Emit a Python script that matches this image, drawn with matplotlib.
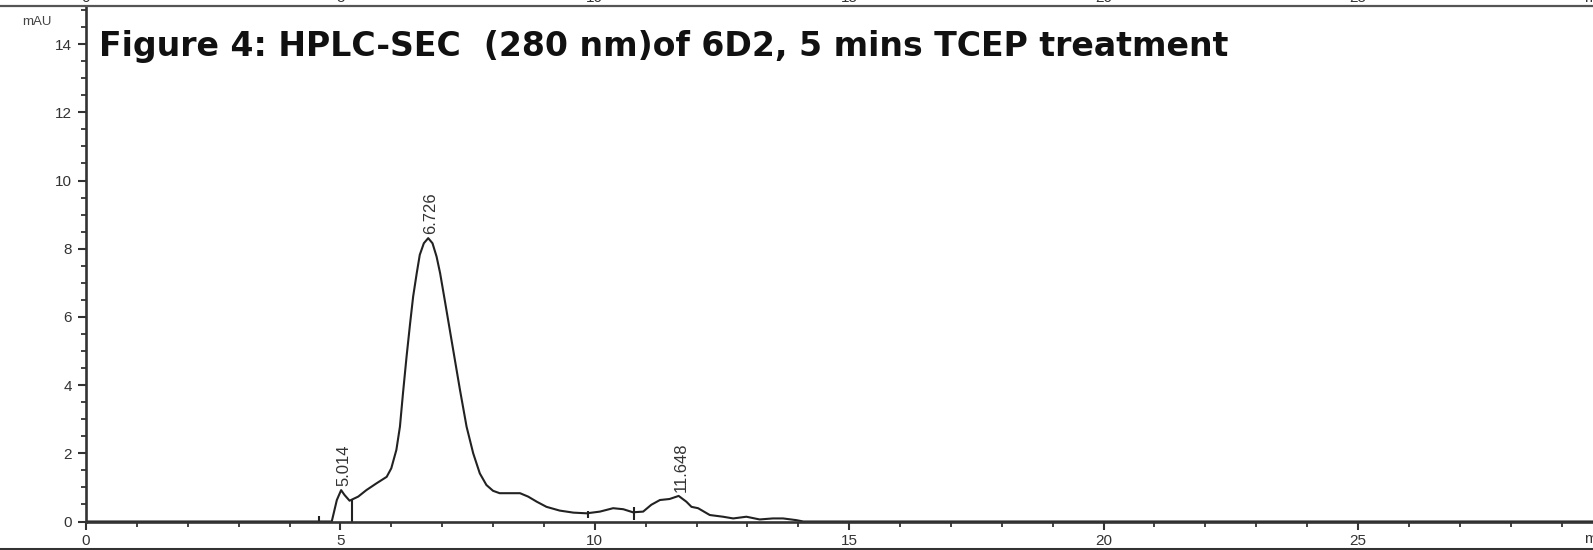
import matplotlib
matplotlib.use("Agg")
import matplotlib.pyplot as plt
from matplotlib.lines import Line2D
from matplotlib.transforms import blended_transform_factory
import numpy as np

# Chromatogram trace: retention time (min) vs absorbance (mAU)
time_min = [0.0, 4.50, 4.83, 4.93, 5.014, 5.08, 5.18, 5.35, 5.51, 5.71, 5.91, 6.00,
            6.10, 6.17, 6.23, 6.30, 6.37, 6.43, 6.50, 6.56, 6.64, 6.726, 6.81, 6.89,
            6.96, 7.05, 7.15, 7.25, 7.35, 7.48, 7.61, 7.74, 7.87, 8.00, 8.13, 8.33,
            8.53, 8.69, 8.86, 9.05, 9.31, 9.58, 9.84, 10.10, 10.36, 10.56, 10.75,
            10.95, 11.11, 11.28, 11.47, 11.648, 11.80, 11.90, 12.03, 12.26, 12.52,
            12.72, 12.98, 13.24, 13.50, 13.70, 13.96, 14.10, 29.6]
absorbance = [0.0, 0.0, 0.0, 0.63, 0.92, 0.78, 0.61, 0.73, 0.92, 1.12, 1.31, 1.56,
              2.10, 2.78, 3.76, 4.83, 5.81, 6.60, 7.28, 7.82, 8.16, 8.31, 8.16, 7.77,
              7.28, 6.50, 5.62, 4.74, 3.86, 2.78, 2.00, 1.41, 1.07, 0.90, 0.83, 0.83,
              0.83, 0.73, 0.58, 0.43, 0.32, 0.26, 0.24, 0.29, 0.39, 0.36, 0.27,
              0.29, 0.49, 0.63, 0.66, 0.75, 0.58, 0.43, 0.39, 0.19, 0.14,
              0.09, 0.14, 0.06, 0.09, 0.09, 0.04, 0.0, 0.0]

# Labelled peaks (retention time, apex height)
peak_times = [5.014, 6.726, 11.648]
peak_heights = [0.92, 8.31, 0.75]
peak_labels = ["5.014", "6.726", "11.648"]

# Integration event markers (time, lower, upper in mAU)
event_times = [4.58, 5.22, 9.86, 10.77]
event_low = [0.0, 0.0, 0.10, 0.05]
event_high = [0.17, 0.62, 0.31, 0.43]

x_ticks = [0, 5, 10, 15, 20, 25]
y_ticks = [0, 2, 4, 6, 8, 10, 12, 14]

title = "Figure 4: HPLC-SEC  (280 nm)of 6D2, 5 mins TCEP treatment"

W, H = 1593, 550
fig = plt.figure(figsize=(W / 100, H / 100), dpi=100)
fig.patch.set_facecolor("white")

left = 86 / W
bottom = (H - 521.5) / H
top = 1 - 6 / H
ax = fig.add_axes([left, bottom, 1 - left, top - bottom])
ax.set_xlim(0, (W - 86) / 50.88)
ax.set_ylim(0, (521.5 - 6) / 34.1)

ink = "#222222"
ax.plot(time_min, absorbance, color=ink, lw=1.5, solid_joinstyle="round")
ax.vlines(event_times, event_low, event_high, color=ink, lw=1.5)

for t, h, lab in zip(peak_times, peak_heights, peak_labels):
    ax.annotate(lab, (t, h), xytext=(2.5, 4), textcoords="offset pixels",
                rotation=90, ha="center", va="bottom", fontsize=12,
                family="Liberation Sans", color="#333333")

for side in ("top", "right"):
    ax.spines[side].set_visible(False)
for side in ("left", "bottom"):
    ax.spines[side].set_linewidth(1.9)
    ax.spines[side].set_color("#333333")

ax.set_xticks(x_ticks)
ax.set_xticks(np.arange(0, 30, 1), minor=True)
ax.set_yticks(y_ticks)
ax.set_yticks(np.arange(0, 15.01, 0.5), minor=True)
ax.tick_params(which="major", direction="out", length=5.8, width=1.5,
               color="#333333", labelsize=11, labelcolor="#333333", pad=3)
ax.tick_params(axis="y", which="major", pad=4.5)
ax.tick_params(which="minor", direction="out", length=3.5, width=1.3,
               color="#333333")
for lab in ax.get_xticklabels() + ax.get_yticklabels():
    lab.set_family("Liberation Sans")

# axis unit labels
fig.text(37 / W, 1 - 22 / H, "mAU", ha="center", va="center", fontsize=9.5,
         family="Liberation Sans", color="#444444")
fig.text(1584 / W, 1 - 532 / H, "min", ha="left", va="top", fontsize=11,
         family="Liberation Sans", color="#333333")

# chart heading
fig.text(99 / W, 1 - 56 / H, title, ha="left", va="baseline", fontsize=23.9,
         family="DejaVu Sans", fontweight="bold", color="#111111")

# frame edges of the neighbouring panels
fig.add_artist(Line2D([0, 1], [1 - 6 / H, 1 - 6 / H], transform=fig.transFigure,
                      color="#555555", lw=1.6, zorder=10))
fig.add_artist(Line2D([0, 1], [1.2 / H, 1.2 / H], transform=fig.transFigure,
                      color="#333333", lw=2.2, zorder=10))

# tick labels of the panel above, cut by the page edge
trans = blended_transform_factory(ax.transData, fig.transFigure)
for t in x_ticks:
    fig.text(t, 1 - 5 / H, str(t), transform=trans, ha="center", va="bottom",
             fontsize=11, family="Liberation Sans", color="#333333")
fig.text(1584 / W, 1 - 5 / H, "min", ha="left", va="bottom", fontsize=11,
         family="Liberation Sans", color="#333333")

fig.savefig("out.png", dpi=100, facecolor="white")
